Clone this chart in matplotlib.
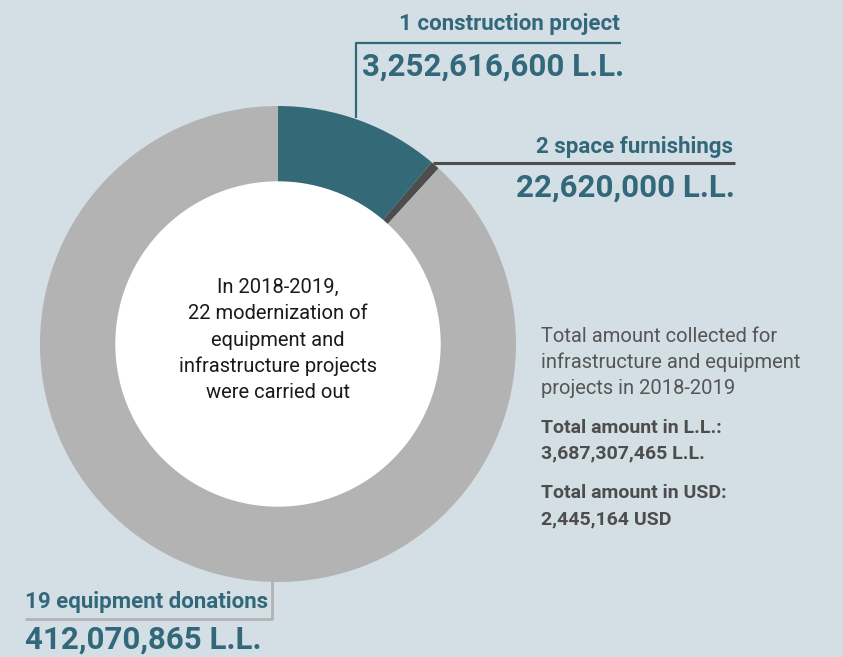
import matplotlib
matplotlib.use("Agg")
import matplotlib.pyplot as plt

# Data
labels = ["19 equipment donations", "2 space furnishings", "1 construction project"]
values = [412070865, 22620000, 3252616600]
colors = ["#346978", "#4d4d4d", "#b3b3b3"]
total_ll = 3687307465
total_usd = 2445164

BG = "#d3dfe5"
TEAL = "#33687a"
GREY_TXT = "#555555"

W, H = 843, 657
fig = plt.figure(figsize=(W / 100, H / 100), dpi=100, facecolor=BG)
ax = fig.add_axes([0, 0, 1, 1])
ax.set_facecolor(BG)


def Y(y):
    return H - y


cx, cy, R = 278, 344, 238
ring = 76
ax.pie(values, colors=colors, startangle=90, counterclock=False,
       center=(cx, Y(cy)), radius=R, frame=True,
       wedgeprops=dict(width=ring, linewidth=0))
ax.set_xlim(0, W)
ax.set_ylim(0, H)
ax.set_aspect("equal")
ax.axis("off")
circ = plt.Circle((cx, Y(cy)), R - ring, color="white", zorder=3)
ax.add_patch(circ)

FONT = "Roboto"
# center text
center_lines = ["In 2018-2019,", "22 modernization of", "equipment and",
                "infrastructure projects", "were carried out"]
for i, t in enumerate(center_lines):
    ax.text(cx, Y(287 + i * 26.5), t, ha="center", va="center", fontsize=14.5,
            color="#1a1a1a", family=FONT, zorder=4)

# construction project annotation
ax.plot([356, 356, 621], [Y(118), Y(43), Y(43)], color=TEAL, lw=1.6,
        solid_capstyle="butt")
ax.text(620, Y(24), labels[2], ha="right", va="center", fontsize=16,
        color=TEAL, family=FONT, fontweight="bold")
ax.text(362, Y(67), f"{values[2]:,} L.L.", ha="left", va="center", fontsize=22.5,
        color=TEAL, family=FONT, fontweight="bold")

# space furnishings annotation
ax.plot([433, 735], [Y(163), Y(163)], color="#4d4d4d", lw=2.2, solid_capstyle="butt")
ax.text(733, Y(147), labels[1], ha="right", va="center", fontsize=16,
        color=TEAL, family=FONT, fontweight="bold")
ax.text(735, Y(188), f"{values[1]:,} L.L.", ha="right", va="center", fontsize=22.5,
        color=TEAL, family=FONT, fontweight="bold")

# equipment donations annotation
ax.plot([272, 272, 25], [Y(578), Y(619), Y(619)], color="#b3b3b3", lw=2,
        solid_capstyle="butt")
ax.text(25, Y(602), labels[0], ha="left", va="center", fontsize=16,
        color=TEAL, family=FONT, fontweight="bold")
ax.text(25, Y(640), f"{values[0]:,} L.L.", ha="left", va="center", fontsize=22.5,
        color=TEAL, family=FONT, fontweight="bold")

# totals
info = ["Total amount collected for", "infrastructure and equipment",
        "projects in 2018-2019"]
for i, t in enumerate(info):
    ax.text(541, Y(336 + i * 26), t, ha="left", va="center", fontsize=14.5,
            color=GREY_TXT, family=FONT)
ax.text(541, Y(428), "Total amount in L.L.:", ha="left", va="center", fontsize=14,
        color="#4d4d4d", family=FONT, fontweight="bold")
ax.text(541, Y(453), f"{total_ll:,} L.L.", ha="left", va="center", fontsize=14,
        color="#4d4d4d", family=FONT, fontweight="bold")
ax.text(541, Y(493), "Total amount in USD:", ha="left", va="center", fontsize=14,
        color="#4d4d4d", family=FONT, fontweight="bold")
ax.text(541, Y(519), f"{total_usd:,} USD", ha="left", va="center", fontsize=14,
        color="#4d4d4d", family=FONT, fontweight="bold")

fig.savefig("out.png", dpi=100, facecolor=BG)
